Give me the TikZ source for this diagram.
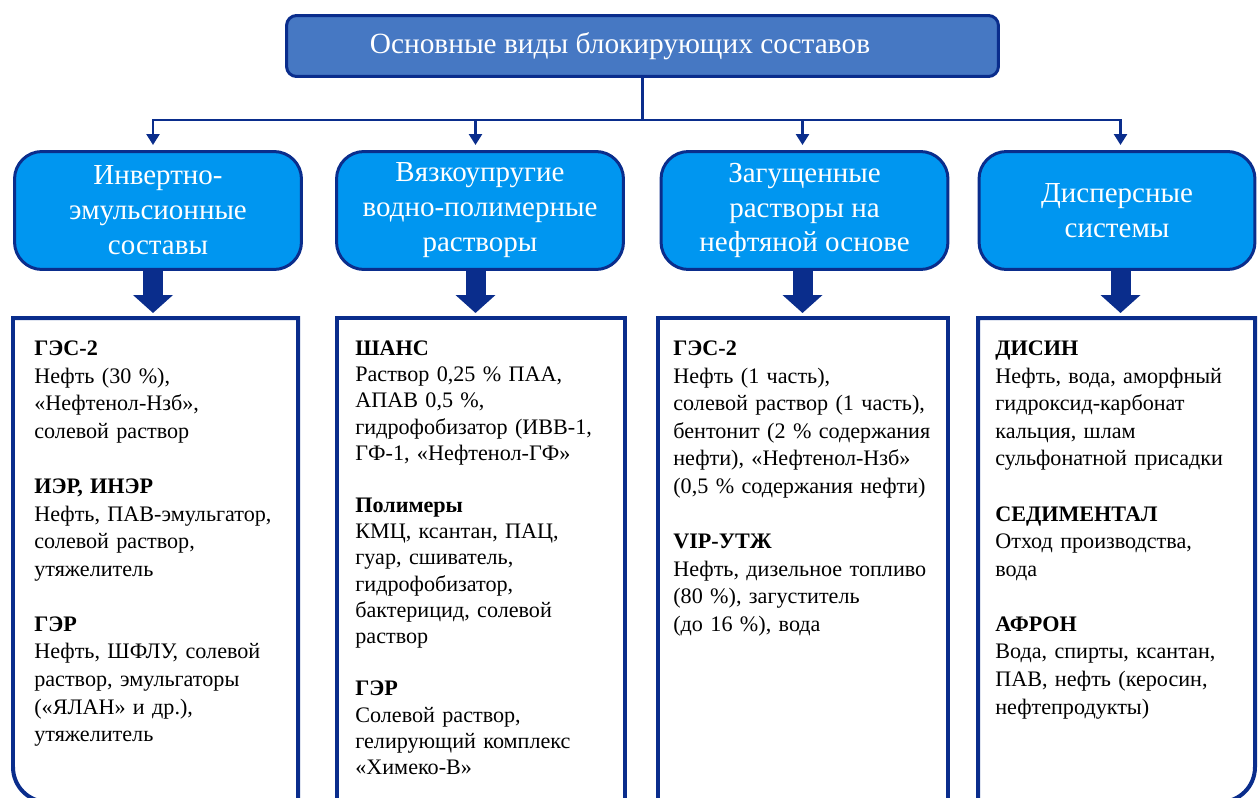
\documentclass[tikz,border=0pt]{standalone}
\usepackage{fontspec}
\setmainfont{Liberation Serif}
\usetikzlibrary{arrows.meta}
\definecolor{navy}{RGB}{10,45,140}
\definecolor{titleblue}{RGB}{70,120,195}
\definecolor{catblue}{RGB}{0,150,240}

\begin{document}
\begin{tikzpicture}[x=0.02cm, y=-0.02cm, line join=miter,
    titlebox/.style={draw=navy, fill=titleblue, line width=0.06cm, rounded corners=0.2cm, text=white, minimum width=14.24cm, minimum height=1.22cm, font=\fontsize{16.7}{20}\selectfont},
    catbox/.style={draw=navy, fill=catblue, line width=0.06cm, rounded corners=0.55cm, text=white, align=center, minimum width=5.74cm, minimum height=2.36cm, font=\fontsize{16.5}{19.9}\selectfont},
    listtext/.style={anchor=north west, align=left, text width=6cm, inner xsep=0.38cm, inner ysep=0.45cm, font=\fontsize{12.6}{15.7}\selectfont},
    listline/.style={draw=navy, line width=0.08cm},
    thin/.style={draw=navy, line width=0.05cm, line cap=rect},
    thinarrow/.style={draw=navy, line width=0.05cm, -{Triangle[width=0.26cm, length=0.22cm]}, shorten >=0.1cm},
    bigarrow/.style={draw=navy, line width=0.4cm, -{Triangle[width=0.78cm, length=0.36cm]}, shorten >=0.1cm}]
    \useasboundingbox (0,0) rectangle (1258,798);

    \node[titlebox] (title) at (642.5, 46) {Основные виды блокирующих составов\hspace*{0.9cm}};

    \node[catbox] (inv) at (158, 210.5) {Инвертно-\\эмульсионные\\составы};
    \node[catbox] (visc) at (480, 210.5) {Вязкоупругие\\водно-полимерные\\растворы};
    \node[catbox] (thick) at (804.5, 210.5) {Загущенные\\растворы на\\нефтяной основе};
    \node[catbox, minimum width=5.52cm] (disp) at (1117, 210.5) {Дисперсные\\системы};

    \coordinate (bus) at (0, 120);
    \coordinate (bot) at (0, 802);
    \coordinate (c1) at (153, 120);
    \coordinate (c2) at (475.5, 120);
    \coordinate (c3) at (802.5, 120);
    \coordinate (c4) at (1120.5, 120);

    \draw[thin] (title.south) -- (title.south |- bus);
    \draw[thin] (c1) -- (c4);
    \foreach \c/\n in {c1/inv, c2/visc, c3/thick, c4/disp}
        \draw[thinarrow] (\c) -- (\c |- \n.north);

    \coordinate (l1) at (13, 318);
    \coordinate (r1) at (298, 318);
    \coordinate (l2) at (337, 318);
    \coordinate (r2) at (625, 318);
    \coordinate (l3) at (658, 318);
    \coordinate (r3) at (948, 318);
    \coordinate (l4) at (978, 318);
    \coordinate (r4) at (1255, 318);

    \foreach \c/\n/\m in {c1/inv/l1, c2/visc/l2, c3/thick/l3, c4/disp/l4}
        \draw[bigarrow] (\c |- \n.south) -- (\c |- \m);

    \node[listtext, xshift=0.04cm] (invlist) at (l1) {\textbf{ГЭС-2}\\ Нефть (30~\%),\\ «Нефтенол-Нзб»,\\ солевой раствор\\[\baselineskip]
        \textbf{ИЭР, ИНЭР}\\ Нефть, ПАВ-эмульгатор,\\ солевой раствор,\\ утяжелитель\\[\baselineskip]
        \textbf{ГЭР}\\ Нефть, ШФЛУ, солевой\\ раствор, эмульгаторы\\ («ЯЛАН» и~др.),\\ утяжелитель};
    \node[listtext, font=\fontsize{12.6}{14.9}\selectfont, xshift=-0.02cm] (visclist) at (l2) {\textbf{ШАНС}\\ Раствор 0,25~\% ПАА,\\ АПАВ 0,5~\%,\\ гидрофобизатор (ИВВ-1,\\ ГФ-1, «Нефтенол-ГФ»\\[\baselineskip]
        \textbf{Полимеры}\\ КМЦ, ксантан, ПАЦ,\\ гуар, сшиватель,\\ гидрофобизатор,\\ бактерицид, солевой\\ раствор\\[\baselineskip]
        \textbf{ГЭР}\\ Солевой раствор,\\ гелирующий комплекс\\ «Химеко-В»};
    \node[listtext, xshift=-0.08cm] (thicklist) at (l3) {\textbf{ГЭС-2}\\ Нефть (1 часть),\\ солевой раствор (1 часть),\\ бентонит (2~\% содержания\\ нефти), «Нефтенол-Нзб»\\ (0,5~\% содержания нефти)\\[\baselineskip]
        \textbf{VIP-УТЖ}\\ Нефть, дизельное топливо\\ (80~\%), загуститель\\ (до 16~\%), вода};
    \node[listtext, xshift=-0.04cm] (displist) at (l4) {\textbf{ДИСИН}\\ Нефть, вода, аморфный\\ гидроксид-карбонат\\ кальция, шлам\\ сульфонатной присадки\\[\baselineskip]
        \textbf{СЕДИМЕНТАЛ}\\ Отход производства,\\ вода\\[\baselineskip]
        \textbf{АФРОН}\\ Вода, спирты, ксантан,\\ ПАВ, нефть (керосин,\\ нефтепродукты)};

    \coordinate (bl1) at (l1 |- bot);
    \coordinate (br4) at (r4 |- bot);
    \draw[listline] (r1 |- bot) -- (r1) -- (l1) -- ([yshift=0.7cm]bl1) .. controls +(0,-0.39cm) and +(-0.39cm,0) .. ([xshift=0.7cm]bl1) -- cycle;
    \draw[listline] (l2) rectangle (r2 |- bot);
    \draw[listline] (l3) rectangle (r3 |- bot);
    \draw[listline] (l4 |- bot) -- (l4) -- (r4) -- ([yshift=0.7cm]br4) .. controls +(0,-0.39cm) and +(0.39cm,0) .. ([xshift=-0.7cm]br4) -- cycle;
\end{tikzpicture}
\end{document}
